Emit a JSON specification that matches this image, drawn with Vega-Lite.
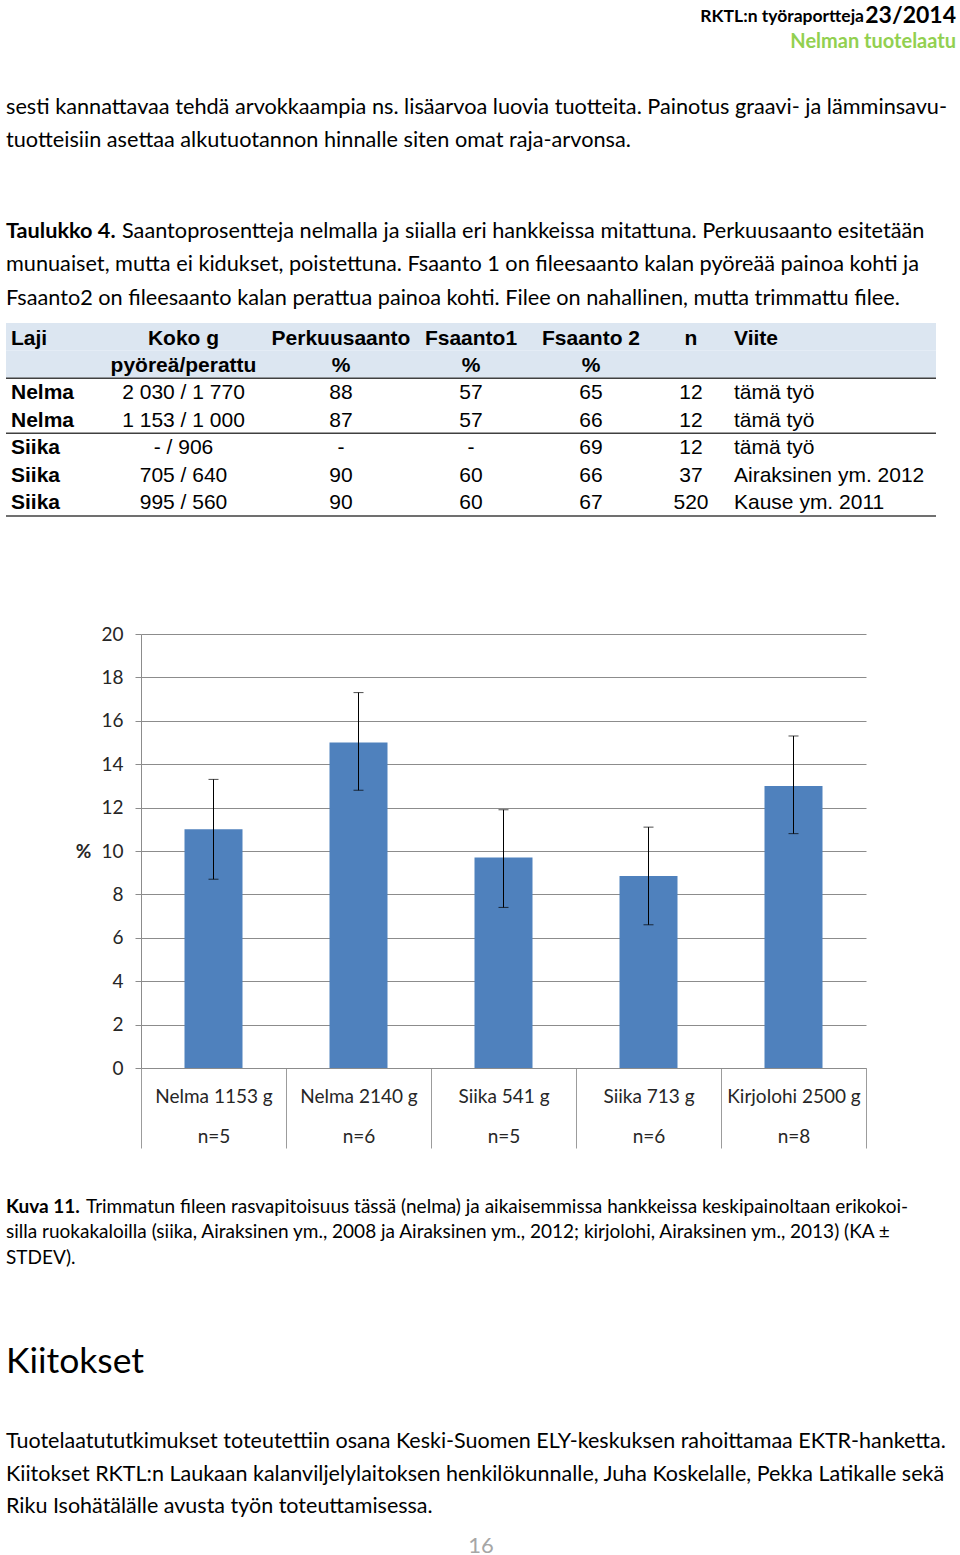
{
  "$schema": "https://vega.github.io/schema/vega-lite/v6.json",
  "padding": {"left": 5, "right": 5, "top": 0, "bottom": 0},
  "background": "white",
  "spacing": 0,
  "config": {"view": {"stroke": null}},
  "datasets": {
    "otsake": [
      {"i": 1, "osa": "sarja", "teksti": "RKTL:n työraportteja"},
      {"i": 1, "osa": "numero", "teksti": "23/2014"},
      {"i": 2, "osa": "nimi", "teksti": "Nelman tuotelaatu"}
    ],
    "kpl1": [
      {"i": 1, "teksti": "sesti kannattavaa tehdä arvokkaampia ns. lisäarvoa luovia tuotteita. Painotus graavi- ja lämminsavu-"},
      {"i": 2, "teksti": "tuotteisiin asettaa alkutuotannon hinnalle siten omat raja-arvonsa."}
    ],
    "taulukkoteksti": [
      {"i": 1, "osa": "otsikko", "teksti": "Taulukko 4."},
      {"i": 1, "osa": "alku", "teksti": "Saantoprosentteja nelmalla ja siialla eri hankkeissa mitattuna. Perkuusaanto esitetään"},
      {"i": 2, "osa": "jatko", "teksti": "munuaiset, mutta ei kidukset, poistettuna. Fsaanto 1 on fileesaanto kalan pyöreää painoa kohti ja"},
      {"i": 3, "osa": "jatko", "teksti": "Fsaanto2 on fileesaanto kalan perattua painoa kohti. Filee on nahallinen, mutta trimmattu filee."}
    ],
    "taulukko": [
      {"rivi": 1, "Laji": "Laji", "Koko": "Koko g", "Perkuusaanto": "Perkuusaanto", "Fsaanto1": "Fsaanto1", "Fsaanto2": "Fsaanto 2", "n": "n", "Viite": "Viite"},
      {"rivi": 2, "Laji": "", "Koko": "pyöreä/perattu", "Perkuusaanto": "%", "Fsaanto1": "%", "Fsaanto2": "%", "n": "", "Viite": ""},
      {"rivi": 3, "Laji": "Nelma", "Koko": "2 030 / 1 770", "Perkuusaanto": "88", "Fsaanto1": "57", "Fsaanto2": "65", "n": "12", "Viite": "tämä työ"},
      {"rivi": 4, "Laji": "Nelma", "Koko": "1 153 / 1 000", "Perkuusaanto": "87", "Fsaanto1": "57", "Fsaanto2": "66", "n": "12", "Viite": "tämä työ"},
      {"rivi": 5, "Laji": "Siika", "Koko": "- / 906", "Perkuusaanto": "-", "Fsaanto1": "-", "Fsaanto2": "69", "n": "12", "Viite": "tämä työ"},
      {"rivi": 6, "Laji": "Siika", "Koko": "705 / 640", "Perkuusaanto": "90", "Fsaanto1": "60", "Fsaanto2": "66", "n": "37", "Viite": "Airaksinen ym. 2012"},
      {"rivi": 7, "Laji": "Siika", "Koko": "995 / 560", "Perkuusaanto": "90", "Fsaanto1": "60", "Fsaanto2": "67", "n": "520", "Viite": "Kause ym. 2011"}
    ],
    "rasva": [
      {"ryhma": "Nelma 1153 g\nn=5", "ka": 11.0, "ala": 8.7, "yla": 13.3},
      {"ryhma": "Nelma 2140 g\nn=6", "ka": 15.0, "ala": 12.8, "yla": 17.3},
      {"ryhma": "Siika 541 g\nn=5", "ka": 9.7, "ala": 7.4, "yla": 11.9},
      {"ryhma": "Siika 713 g\nn=6", "ka": 8.85, "ala": 6.6, "yla": 11.1},
      {"ryhma": "Kirjolohi 2500 g\nn=8", "ka": 13.0, "ala": 10.8, "yla": 15.3}
    ],
    "kuvateksti": [
      {"i": 1, "osa": "otsikko", "teksti": "Kuva 11."},
      {"i": 1, "osa": "alku", "teksti": "Trimmatun fileen rasvapitoisuus tässä (nelma) ja aikaisemmissa hankkeissa keskipainoltaan erikokoi-"},
      {"i": 2, "osa": "jatko", "teksti": "silla ruokakaloilla (siika, Airaksinen ym., 2008 ja Airaksinen ym., 2012; kirjolohi, Airaksinen ym., 2013) (KA ±"},
      {"i": 3, "osa": "jatko", "teksti": "STDEV)."}
    ],
    "kiitokset": [{"teksti": "Kiitokset"}],
    "kiitosteksti": [
      {"i": 1, "teksti": "Tuotelaatututkimukset toteutettiin osana Keski-Suomen ELY-keskuksen rahoittamaa EKTR-hanketta."},
      {"i": 2, "teksti": "Kiitokset RKTL:n Laukaan kalanviljelylaitoksen henkilökunnalle, Juha Koskelalle, Pekka Latikalle sekä"},
      {"i": 3, "teksti": "Riku Isohätälälle avusta työn toteuttamisessa."}
    ],
    "sivu": [{"teksti": "16"}]
  },
  "vconcat": [
    {
      "width": 950, "height": 58,
      "data": {"name": "otsake"},
      "encoding": {"y": {"field": "i", "type": "ordinal", "axis": null, "scale": {"type": "point", "padding": 0.615}}},
      "layer": [
        {"transform": [{"filter": "datum.osa == 'numero'"}], "mark": {"type": "text", "align": "right", "baseline": "middle", "font": "Lato", "fontWeight": "bold", "fontSize": 23, "color": "#000"}, "encoding": {"x": {"value": "width"}, "text": {"field": "teksti"}}},
        {"transform": [{"filter": "datum.osa == 'sarja'"}], "mark": {"type": "text", "align": "right", "baseline": "middle", "font": "Lato", "fontWeight": "bold", "fontSize": 17.5, "color": "#000", "dx": -92, "dy": 1}, "encoding": {"x": {"value": "width"}, "text": {"field": "teksti"}}},
        {"transform": [{"filter": "datum.osa == 'nimi'"}], "mark": {"type": "text", "align": "right", "baseline": "middle", "font": "Lato", "fontWeight": "bold", "fontSize": 20, "color": "#92D050"}, "encoding": {"x": {"value": "width"}, "text": {"field": "teksti"}}}
      ]
    },
    {"width": 950, "height": 31.5, "data": {"values": []}, "mark": "text"},
    {
      "width": 950, "height": 66,
      "data": {"name": "kpl1"},
      "mark": {"type": "text", "align": "left", "baseline": "middle", "font": "Lato", "fontSize": 21.7, "color": "#000"},
      "encoding": {"x": {"value": 0}, "y": {"field": "i", "type": "ordinal", "axis": null, "scale": {"type": "point"}}, "text": {"field": "teksti"}}
    },
    {"width": 950, "height": 57.75, "data": {"values": []}, "mark": "text"},
    {
      "width": 950, "height": 100.5,
      "data": {"name": "taulukkoteksti"},
      "encoding": {"y": {"field": "i", "type": "ordinal", "axis": null, "scale": {"type": "point"}}, "x": {"value": 0}, "text": {"field": "teksti"}},
      "layer": [
        {"transform": [{"filter": "datum.osa == 'otsikko'"}], "mark": {"type": "text", "align": "left", "baseline": "middle", "font": "Lato", "fontWeight": "bold", "fontSize": 21.7, "color": "#000"}},
        {"transform": [{"filter": "datum.osa == 'alku'"}], "mark": {"type": "text", "align": "left", "baseline": "middle", "font": "Lato", "fontSize": 21.7, "color": "#000", "dx": 116}},
        {"transform": [{"filter": "datum.osa == 'jatko'"}], "mark": {"type": "text", "align": "left", "baseline": "middle", "font": "Lato", "fontSize": 21.7, "color": "#000"}}
      ]
    },
    {"width": 950, "height": 7.25, "data": {"values": []}, "mark": "text"},
    {
      "spacing": 0,
      "bounds": "flush",
      "hconcat": [
        {
          "width": 95, "height": 193, "data": {"name": "taulukko"},
          "encoding": {"y": {"field": "rivi", "type": "ordinal", "axis": null, "scale": {"paddingInner": 0, "paddingOuter": 0}}},
          "layer": [
            {"transform": [{"filter": "datum.rivi <= 2"}], "mark": {"type": "rect", "color": "#DCE6F1"}, "encoding": {"x": {"value": 0}, "x2": {"value": "width"}}},
            {"transform": [{"filter": "datum.rivi == 2 || datum.rivi == 4 || datum.rivi == 7"}], "mark": {"type": "rule", "color": "#404040", "strokeWidth": 1.5}, "encoding": {"y": {"field": "rivi", "type": "ordinal", "bandPosition": 1}}},
            {"transform": [{"filter": "datum.rivi <= 2"}], "mark": {"type": "text", "align": "left", "font": "Liberation Sans", "fontSize": 21, "fontWeight": "bold", "color": "#000", "dx": 5, "dy": 2}, "encoding": {"x": {"value": 0}, "text": {"field": "Laji"}}},
            {"transform": [{"filter": "datum.rivi > 2"}], "mark": {"type": "text", "align": "left", "font": "Liberation Sans", "fontSize": 21, "fontWeight": "bold", "color": "#000", "dx": 5, "dy": 1}, "encoding": {"x": {"value": 0}, "text": {"field": "Laji"}}}
          ]
        },
        {
          "width": 165, "height": 193, "data": {"name": "taulukko"},
          "encoding": {"y": {"field": "rivi", "type": "ordinal", "axis": null, "scale": {"paddingInner": 0, "paddingOuter": 0}}},
          "layer": [
            {"transform": [{"filter": "datum.rivi <= 2"}], "mark": {"type": "rect", "color": "#DCE6F1"}, "encoding": {"x": {"value": 0}, "x2": {"value": "width"}}},
            {"transform": [{"filter": "datum.rivi == 2 || datum.rivi == 4 || datum.rivi == 7"}], "mark": {"type": "rule", "color": "#404040", "strokeWidth": 1.5}, "encoding": {"y": {"field": "rivi", "type": "ordinal", "bandPosition": 1}}},
            {"transform": [{"filter": "datum.rivi <= 2"}], "mark": {"type": "text", "align": "center", "font": "Liberation Sans", "fontSize": 21, "fontWeight": "bold", "color": "#000", "dy": 2}, "encoding": {"text": {"field": "Koko"}}},
            {"transform": [{"filter": "datum.rivi > 2"}], "mark": {"type": "text", "align": "center", "font": "Liberation Sans", "fontSize": 21, "color": "#000", "dy": 1}, "encoding": {"text": {"field": "Koko"}}}
          ]
        },
        {
          "width": 150, "height": 193, "data": {"name": "taulukko"},
          "encoding": {"y": {"field": "rivi", "type": "ordinal", "axis": null, "scale": {"paddingInner": 0, "paddingOuter": 0}}},
          "layer": [
            {"transform": [{"filter": "datum.rivi <= 2"}], "mark": {"type": "rect", "color": "#DCE6F1"}, "encoding": {"x": {"value": 0}, "x2": {"value": "width"}}},
            {"transform": [{"filter": "datum.rivi == 2 || datum.rivi == 4 || datum.rivi == 7"}], "mark": {"type": "rule", "color": "#404040", "strokeWidth": 1.5}, "encoding": {"y": {"field": "rivi", "type": "ordinal", "bandPosition": 1}}},
            {"transform": [{"filter": "datum.rivi <= 2"}], "mark": {"type": "text", "align": "center", "font": "Liberation Sans", "fontSize": 21, "fontWeight": "bold", "color": "#000", "dy": 2}, "encoding": {"text": {"field": "Perkuusaanto"}}},
            {"transform": [{"filter": "datum.rivi > 2"}], "mark": {"type": "text", "align": "center", "font": "Liberation Sans", "fontSize": 21, "color": "#000", "dy": 1}, "encoding": {"text": {"field": "Perkuusaanto"}}}
          ]
        },
        {
          "width": 110, "height": 193, "data": {"name": "taulukko"},
          "encoding": {"y": {"field": "rivi", "type": "ordinal", "axis": null, "scale": {"paddingInner": 0, "paddingOuter": 0}}},
          "layer": [
            {"transform": [{"filter": "datum.rivi <= 2"}], "mark": {"type": "rect", "color": "#DCE6F1"}, "encoding": {"x": {"value": 0}, "x2": {"value": "width"}}},
            {"transform": [{"filter": "datum.rivi == 2 || datum.rivi == 4 || datum.rivi == 7"}], "mark": {"type": "rule", "color": "#404040", "strokeWidth": 1.5}, "encoding": {"y": {"field": "rivi", "type": "ordinal", "bandPosition": 1}}},
            {"transform": [{"filter": "datum.rivi <= 2"}], "mark": {"type": "text", "align": "center", "font": "Liberation Sans", "fontSize": 21, "fontWeight": "bold", "color": "#000", "dy": 2}, "encoding": {"text": {"field": "Fsaanto1"}}},
            {"transform": [{"filter": "datum.rivi > 2"}], "mark": {"type": "text", "align": "center", "font": "Liberation Sans", "fontSize": 21, "color": "#000", "dy": 1}, "encoding": {"text": {"field": "Fsaanto1"}}}
          ]
        },
        {
          "width": 130, "height": 193, "data": {"name": "taulukko"},
          "encoding": {"y": {"field": "rivi", "type": "ordinal", "axis": null, "scale": {"paddingInner": 0, "paddingOuter": 0}}},
          "layer": [
            {"transform": [{"filter": "datum.rivi <= 2"}], "mark": {"type": "rect", "color": "#DCE6F1"}, "encoding": {"x": {"value": 0}, "x2": {"value": "width"}}},
            {"transform": [{"filter": "datum.rivi == 2 || datum.rivi == 4 || datum.rivi == 7"}], "mark": {"type": "rule", "color": "#404040", "strokeWidth": 1.5}, "encoding": {"y": {"field": "rivi", "type": "ordinal", "bandPosition": 1}}},
            {"transform": [{"filter": "datum.rivi <= 2"}], "mark": {"type": "text", "align": "center", "font": "Liberation Sans", "fontSize": 21, "fontWeight": "bold", "color": "#000", "dy": 2}, "encoding": {"text": {"field": "Fsaanto2"}}},
            {"transform": [{"filter": "datum.rivi > 2"}], "mark": {"type": "text", "align": "center", "font": "Liberation Sans", "fontSize": 21, "color": "#000", "dy": 1}, "encoding": {"text": {"field": "Fsaanto2"}}}
          ]
        },
        {
          "width": 70, "height": 193, "data": {"name": "taulukko"},
          "encoding": {"y": {"field": "rivi", "type": "ordinal", "axis": null, "scale": {"paddingInner": 0, "paddingOuter": 0}}},
          "layer": [
            {"transform": [{"filter": "datum.rivi <= 2"}], "mark": {"type": "rect", "color": "#DCE6F1"}, "encoding": {"x": {"value": 0}, "x2": {"value": "width"}}},
            {"transform": [{"filter": "datum.rivi == 2 || datum.rivi == 4 || datum.rivi == 7"}], "mark": {"type": "rule", "color": "#404040", "strokeWidth": 1.5}, "encoding": {"y": {"field": "rivi", "type": "ordinal", "bandPosition": 1}}},
            {"transform": [{"filter": "datum.rivi <= 2"}], "mark": {"type": "text", "align": "center", "font": "Liberation Sans", "fontSize": 21, "fontWeight": "bold", "color": "#000", "dy": 2}, "encoding": {"text": {"field": "n"}}},
            {"transform": [{"filter": "datum.rivi > 2"}], "mark": {"type": "text", "align": "center", "font": "Liberation Sans", "fontSize": 21, "color": "#000", "dy": 1}, "encoding": {"text": {"field": "n"}}}
          ]
        },
        {
          "width": 210, "height": 193, "data": {"name": "taulukko"},
          "encoding": {"y": {"field": "rivi", "type": "ordinal", "axis": null, "scale": {"paddingInner": 0, "paddingOuter": 0}}},
          "layer": [
            {"transform": [{"filter": "datum.rivi <= 2"}], "mark": {"type": "rect", "color": "#DCE6F1"}, "encoding": {"x": {"value": 0}, "x2": {"value": "width"}}},
            {"transform": [{"filter": "datum.rivi == 2 || datum.rivi == 4 || datum.rivi == 7"}], "mark": {"type": "rule", "color": "#404040", "strokeWidth": 1.5}, "encoding": {"y": {"field": "rivi", "type": "ordinal", "bandPosition": 1}}},
            {"transform": [{"filter": "datum.rivi <= 2"}], "mark": {"type": "text", "align": "left", "font": "Liberation Sans", "fontSize": 21, "fontWeight": "bold", "color": "#000", "dx": 8, "dy": 2}, "encoding": {"x": {"value": 0}, "text": {"field": "Viite"}}},
            {"transform": [{"filter": "datum.rivi > 2"}], "mark": {"type": "text", "align": "left", "font": "Liberation Sans", "fontSize": 21, "color": "#000", "dx": 8, "dy": 1}, "encoding": {"x": {"value": 0}, "text": {"field": "Viite"}}}
          ]
        }
      ]
    },
    {"width": 950, "height": 108, "data": {"values": []}, "mark": "text"},
    {
      "spacing": 0,
      "bounds": "flush",
      "hconcat": [
        {"width": 135, "height": 434, "data": {"values": []}, "mark": "text"},
        {
          "width": 725, "height": 434,
          "data": {"name": "rasva"},
          "encoding": {
            "x": {
              "field": "ryhma", "type": "nominal", "sort": null, "title": null,
              "scale": {"paddingInner": 0, "paddingOuter": 0},
              "axis": {
                "labelAngle": 0, "labelExpr": "split(datum.label, '\\n')", "labelLineHeight": 40,
                "labelFont": "Lato", "labelFontSize": 19, "labelColor": "#262626", "labelLimit": 0,
                "labelPadding": -61, "labelBaseline": "top",
                "tickBand": "extent", "tickSize": 80, "tickColor": "#9c9c9c", "tickWidth": 1,
                "domainColor": "#8c8c8c", "domainWidth": 1
              }
            }
          },
          "layer": [
            {
              "mark": {"type": "bar", "color": "#4F81BD", "width": {"band": 0.4}},
              "encoding": {
                "y": {
                  "field": "ka", "type": "quantitative", "title": "%",
                  "scale": {"domain": [0, 20], "nice": false},
                  "axis": {
                    "values": [0, 2, 4, 6, 8, 10, 12, 14, 16, 18, 20],
                    "grid": true, "gridColor": "#8c8c8c", "gridWidth": 1,
                    "domainColor": "#8c8c8c", "tickColor": "#8c8c8c", "tickSize": 6,
                    "labelPadding": 12, "labelFont": "Lato", "labelFontSize": 19, "labelColor": "#262626",
                    "titleAngle": 0, "titleX": -58, "titleY": 217, "titleAlign": "center", "titleBaseline": "middle",
                    "titleFont": "Lato", "titleFontSize": 19, "titleFontWeight": "bold", "titleColor": "#262626"
                  }
                }
              }
            },
            {
              "mark": {"type": "rule", "color": "#000", "strokeWidth": 1},
              "encoding": {"y": {"field": "ala", "type": "quantitative", "title": "%"}, "y2": {"field": "yla"}}
            },
            {
              "mark": {"type": "tick", "color": "#000", "size": 10, "thickness": 1},
              "encoding": {"y": {"field": "ala", "type": "quantitative", "title": "%"}}
            },
            {
              "mark": {"type": "tick", "color": "#000", "size": 10, "thickness": 1},
              "encoding": {"y": {"field": "yla", "type": "quantitative", "title": "%"}}
            }
          ]
        }
      ]
    },
    {"width": 950, "height": 45, "data": {"values": []}, "mark": "text"},
    {
      "width": 950, "height": 76.5,
      "data": {"name": "kuvateksti"},
      "encoding": {"y": {"field": "i", "type": "ordinal", "axis": null, "scale": {"type": "point"}}, "x": {"value": 0}, "text": {"field": "teksti"}},
      "layer": [
        {"transform": [{"filter": "datum.osa == 'otsikko'"}], "mark": {"type": "text", "align": "left", "baseline": "middle", "font": "Lato", "fontWeight": "bold", "fontSize": 19, "color": "#000"}},
        {"transform": [{"filter": "datum.osa == 'alku'"}], "mark": {"type": "text", "align": "left", "baseline": "middle", "font": "Lato", "fontSize": 19, "color": "#000", "dx": 80}},
        {"transform": [{"filter": "datum.osa == 'jatko'"}], "mark": {"type": "text", "align": "left", "baseline": "middle", "font": "Lato", "fontSize": 19, "color": "#000"}}
      ]
    },
    {"width": 950, "height": 68.25, "data": {"values": []}, "mark": "text"},
    {
      "width": 950, "height": 44,
      "data": {"name": "kiitokset"},
      "mark": {"type": "text", "align": "left", "baseline": "middle", "font": "Lato", "fontSize": 35.5, "color": "#000"},
      "encoding": {"x": {"value": 0}, "text": {"field": "teksti"}}
    },
    {"width": 950, "height": 41.75, "data": {"values": []}, "mark": "text"},
    {
      "width": 950, "height": 97.5,
      "data": {"name": "kiitosteksti"},
      "mark": {"type": "text", "align": "left", "baseline": "middle", "font": "Lato", "fontSize": 21.5, "color": "#000"},
      "encoding": {"x": {"value": 0}, "y": {"field": "i", "type": "ordinal", "axis": null, "scale": {"type": "point"}}, "text": {"field": "teksti"}}
    },
    {"width": 950, "height": 9.75, "data": {"values": []}, "mark": "text"},
    {
      "width": 950, "height": 24,
      "data": {"name": "sivu"},
      "mark": {"type": "text", "align": "center", "baseline": "middle", "font": "Lato", "fontSize": 22, "color": "#A6A6A6"},
      "encoding": {"text": {"field": "teksti"}}
    }
  ]
}
